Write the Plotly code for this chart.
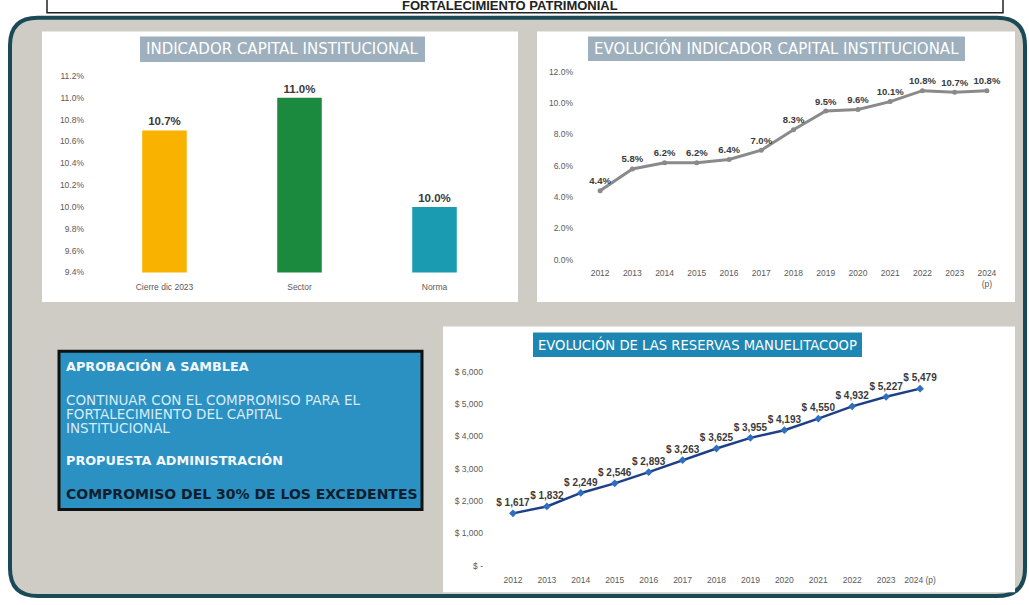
import plotly.graph_objects as go

W, H = 1029, 605

# ---------------- data ----------------
bar_categories = ["Cierre dic 2023", "Sector", "Norma"]
bar_values = [10.7, 11.0, 10.0]
bar_colors = ["#f9b200", "#1c8a3e", "#1a9bb2"]
bar_ticks = [9.4, 9.6, 9.8, 10.0, 10.2, 10.4, 10.6, 10.8, 11.0, 11.2]

years = ["2012", "2013", "2014", "2015", "2016", "2017", "2018", "2019",
         "2020", "2021", "2022", "2023", "2024"]
years_label_ind = ["2012", "2013", "2014", "2015", "2016", "2017", "2018", "2019",
                   "2020", "2021", "2022", "2023", "2024<br>(p)"]
indicator_values = [4.4, 5.8, 6.2, 6.2, 6.4, 7.0, 8.3, 9.5, 9.6, 10.1, 10.8, 10.7, 10.8]
indicator_ticks = [0, 2, 4, 6, 8, 10, 12]

years_label_res = ["2012", "2013", "2014", "2015", "2016", "2017", "2018", "2019",
                   "2020", "2021", "2022", "2023", "2024 (p)"]
reserve_values = [1617, 1832, 2249, 2546, 2893, 3263, 3625, 3955, 4193, 4550, 4932, 5227, 5479]
reserve_ticks = [0, 1000, 2000, 3000, 4000, 5000, 6000]
reserve_tick_text = ["$ -", "$ 1,000", "$ 2,000", "$ 3,000", "$ 4,000", "$ 5,000", "$ 6,000"]

box_lines = [
    ("APROBACIÓN A SAMBLEA", 368),
    ("CONTINUAR CON EL COMPROMISO PARA EL", 402),
    ("FORTALECIMIENTO DEL CAPITAL", 416),
    ("INSTITUCIONAL", 430),
    ("PROPUESTA ADMINISTRACIÓN", 463),
    ("COMPROMISO DEL 30% DE LOS EXCEDENTES", 497),
]

# ---------------- helpers ----------------
def px(x):
    return x / W

def py(y):
    return 1 - y / H

FONT = "Liberation Sans"
WIDE = "DejaVu Sans"
fig = go.Figure()

# ---------------- traces ----------------
fig.add_trace(go.Bar(
    x=bar_categories, y=bar_values, marker=dict(color=bar_colors, line=dict(width=0)),
    text=[f"<b>{v:.1f}%</b>" for v in bar_values], textposition="outside",
    textfont=dict(family=FONT, size=11.5, color="#3a3a3a"),
    cliponaxis=False, xaxis="x", yaxis="y", width=0.33, showlegend=False))

fig.add_trace(go.Scatter(
    x=years, y=indicator_values, mode="lines+markers+text",
    line=dict(color="#8a8a8a", width=3),
    marker=dict(color="#8a8a8a", size=5),
    text=[f"<b>{v:.1f}%</b>" for v in indicator_values], textposition="top center",
    textfont=dict(family=FONT, size=9.5, color="#3a3a3a"),
    cliponaxis=False, xaxis="x2", yaxis="y2", showlegend=False))

fig.add_trace(go.Scatter(
    x=years, y=reserve_values, mode="lines+markers+text",
    line=dict(color="#1f3f86", width=2.5),
    marker=dict(color="#2f6fc0", size=6, symbol="diamond"),
    text=[f"<b>$ {v:,}</b>" for v in reserve_values], textposition="top center",
    textfont=dict(family=FONT, size=10, color="#3a3a3a"),
    cliponaxis=False, xaxis="x3", yaxis="y3", showlegend=False))

tick_font = dict(family=FONT, size=8.5, color="#5a5a5a")

# ---------------- shapes ----------------
shapes = []

# outer rounded frame
x0, y0, x1, y1, r = 10, 13, 1025, 601, 28
def P(x, y):
    return f"{px(x):.5f},{py(y):.5f}"
path = (f"M {P(x0 + r, y0)} L {P(x1 - r, y0)} Q {P(x1, y0)} {P(x1, y0 + r)} "
        f"L {P(x1, y1 - r)} Q {P(x1, y1)} {P(x1 - r, y1)} "
        f"L {P(x0 + r, y1)} Q {P(x0, y1)} {P(x0, y1 - r)} "
        f"L {P(x0, y0 + r)} Q {P(x0, y0)} {P(x0 + r, y0)} Z")
shapes.append(dict(type="path", xref="paper", yref="paper", path=path,
                   fillcolor="#cfccc5", line=dict(color="#1b4a57", width=4), layer="below"))

# top title strip
shapes.append(dict(type="rect", xref="paper", yref="paper",
                   x0=px(47), x1=px(1003), y0=py(8), y1=py(-6),
                   fillcolor="white", line=dict(color="#222222", width=1.5), layer="below"))

# white panels
for (a, b, c, d) in [(42, 27, 518, 302), (537, 27, 1015, 302), (443, 327, 1015, 597)]:
    shapes.append(dict(type="rect", xref="paper", yref="paper",
                       x0=px(a), x1=px(c), y0=py(d), y1=py(b),
                       fillcolor="white", line=dict(width=0), layer="below"))

# title boxes
title_boxes = [
    ((140, 32, 425, 58), "#9eafbd", "INDICADOR CAPITAL INSTITUCIONAL", 15),
    ((588, 32, 965, 57), "#9eafbd", "EVOLUCIÓN INDICADOR CAPITAL INSTITUCIONAL", 15),
    ((533, 333, 862, 358), "#1d86b2", "EVOLUCIÓN DE LAS RESERVAS MANUELITACOOP", 13.2),
]
annotations = []
for (a, b, c, d), col, txt, fs in title_boxes:
    shapes.append(dict(type="rect", xref="paper", yref="paper",
                       x0=px(a), x1=px(c), y0=py(d), y1=py(b),
                       fillcolor=col, line=dict(width=0), layer="below"))
    annotations.append(dict(xref="paper", yref="paper", x=px((a + c) / 2), y=py((b + d) / 2),
                            text=txt, showarrow=False, xanchor="center", yanchor="middle",
                            font=dict(family=WIDE, size=fs, color="white")))

# blue text box
shapes.append(dict(type="rect", xref="paper", yref="paper",
                   x0=px(59), x1=px(422), y0=py(513), y1=py(352),
                   fillcolor="#2b90c2", line=dict(color="#111111", width=3), layer="below"))

for i, (txt, yy) in enumerate(box_lines):
    if i == 0 or i == 4:
        f = dict(family=WIDE, size=12.8, color="#f4f8fb")
        t = f"<b>{txt}</b>"
    elif i == 5:
        f = dict(family=WIDE, size=14, color="#0e1e2c")
        t = f"<b>{txt}</b>"
    else:
        f = dict(family=WIDE, size=13.5, color="#d6ecf7")
        t = txt
    annotations.append(dict(xref="paper", yref="paper", x=px(64), y=py(yy), text=t,
                            showarrow=False, xanchor="left", yanchor="middle", font=f))

# top strip text (only its lower part is visible, as in the reference)
annotations.append(dict(xref="paper", yref="paper", x=px(510), y=py(0), text="<b>FORTALECIMIENTO PATRIMONIAL</b>",
                        showarrow=False, xanchor="center", yanchor="middle",
                        font=dict(family=FONT, size=13, color="#222222")))

# ---------------- layout ----------------
fig.update_layout(
    width=W, height=H, margin=dict(l=0, r=0, t=0, b=0),
    paper_bgcolor="white", plot_bgcolor="rgba(0,0,0,0)",
    shapes=shapes, annotations=annotations, bargap=0.67,
    font=dict(family=FONT),
    xaxis=dict(domain=[px(97), px(502)], anchor="y", showgrid=False, showline=False,
               tickfont=tick_font, ticks="", ticklabelstandoff=8),
    yaxis=dict(domain=[py(272), py(72)], anchor="x", range=[9.4, 11.2], tickvals=bar_ticks,
               ticktext=[f"{v:.1f}%" for v in bar_ticks], showgrid=False, zeroline=False,
               tickfont=tick_font, ticks="", ticklabelstandoff=12),
    xaxis2=dict(domain=[px(584), px(1003)], anchor="y2", range=[-0.5, 12.5], type="category",
                tickvals=years, ticktext=years_label_ind, showgrid=False, showline=False,
                tickfont=tick_font, ticks="", ticklabelstandoff=7),
    yaxis2=dict(domain=[py(259), py(68)], anchor="x2", range=[0, 12], tickvals=indicator_ticks,
                ticktext=[f"{v:.1f}%" for v in indicator_ticks], showgrid=False, zeroline=False,
                tickfont=tick_font, ticks="", ticklabelstandoff=10),
    xaxis3=dict(domain=[px(496), px(937)], anchor="y3", range=[-0.5, 12.5], type="category",
                tickvals=years, ticktext=years_label_res, showgrid=False, showline=False,
                tickfont=tick_font, ticks="", ticklabelstandoff=8),
    yaxis3=dict(domain=[py(570), py(373)], anchor="x3", range=[0, 6000], tickvals=reserve_ticks,
                ticktext=reserve_tick_text, showgrid=False, zeroline=False,
                tickfont=tick_font, ticks="", ticklabelstandoff=12),
)

# remove the page's default 8px body margin so the figure sits at the window's corner
fig.write_html("out.html", config={"displayModeBar": False},
               post_script="document.body.style.margin='0';document.body.style.overflow='hidden';")
